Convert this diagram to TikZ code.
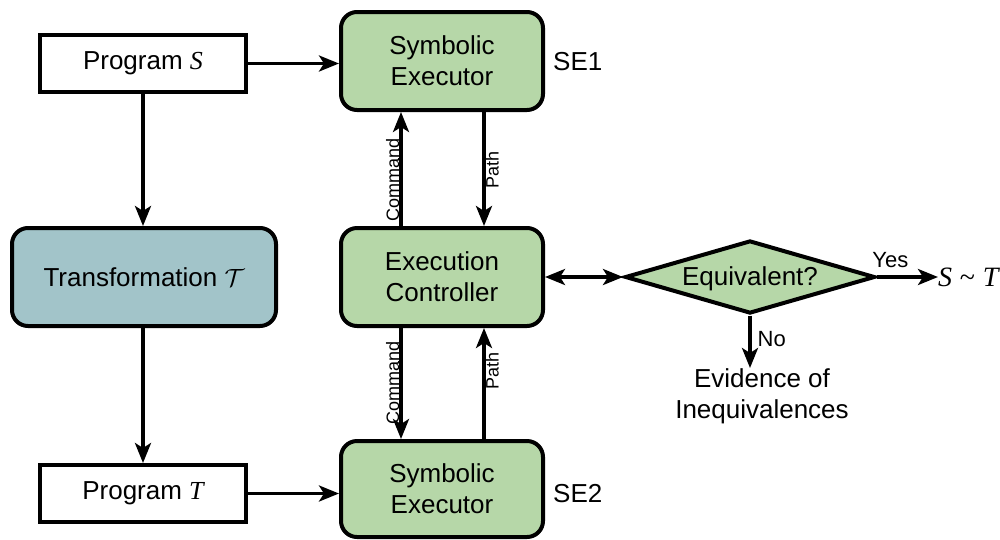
\documentclass[tikz,border=0pt]{standalone}
\usepackage{fontspec}
\setmainfont{Liberation Sans}
\newfontfamily\tms{Liberation Serif}
\usetikzlibrary{arrows.meta,shapes.geometric}
\definecolor{gfill}{HTML}{B6D7A8}
\definecolor{tfill}{HTML}{A2C4C9}
\begin{document}
\begin{tikzpicture}[x=1pt,y=-1pt,
 mainfont/.style={font=\fontsize{26}{31}\selectfont},
 prog/.style={draw, line width=4pt, minimum width=206pt, minimum height=57pt, inner sep=0pt, mainfont},
 gbox/.style={draw, line width=4pt, rounded corners=16pt, fill=gfill, minimum width=202pt, minimum height=98pt, inner sep=0pt, align=center, mainfont},
 tip/.tip={Stealth[length=20pt,width=16pt,inset=5pt]},
 arr/.style={line width=3.3pt, -tip},
 darr/.style={line width=3.3pt, tip-tip},
 vlab/.style={font=\fontsize{18}{20}\selectfont, rotate=90, inner sep=0pt},
 tlab/.style={font=\fontsize{22}{24}\selectfont, inner sep=0pt},
 plain/.style={inner sep=0pt, align=center, mainfont}]
\useasboundingbox (0,0) rectangle (1000,539);

\node[prog] (ps) at (143,63.5) {Program {\tms\itshape S}};
\node[gbox] (se1) at (442,61) {Symbolic\\Executor};
\node[plain, anchor=west] (l1) at (553,62) {SE1};

\node[gbox, fill=tfill, minimum width=264pt] (tr) at (144,277) {Transformation $\mathcal{T}$};
\node[gbox] (ec) at (442,277) {Execution\\Controller};

\node[prog] (pt) at (143,493.5) {Program {\tms\itshape T}};
\node[gbox, minimum height=96pt] (se2) at (442,489) {Symbolic\\Executor};
\node[plain, anchor=west] (l2) at (553,494) {SE2};

\node[diamond, draw, line width=4pt, fill=gfill, minimum width=250pt, minimum height=73pt, inner sep=0pt] (eq) at (750,277) {};
\node[plain] (eqt) at (750,279) {Equivalent?};
\node[inner sep=0pt, anchor=west, font=\fontsize{28}{30}\selectfont] (st) at (938,277) {{\tms\itshape S} {\tms \char`~} {\tms\itshape T}};
\node[plain, anchor=north] (ev) at (762,368) {Evidence of\\Inequivalences};

% connectors
\draw[arr] (ps.east) -- (ps.east -| se1.west);
\draw[arr] (ps.south) -- (ps.south |- tr.north);
\draw[arr] (tr.south -| pt.north) -- (pt.north);
\draw[arr] (pt.east) -- (pt.east -| se2.west);

\draw[arr] ([xshift=-41pt]ec.north) -- ([xshift=-41pt]se1.south) node[vlab, pos=0.44, anchor=south, xshift=-4pt] {Command};
\draw[arr] ([xshift=42pt]se1.south) -- ([xshift=42pt]ec.north) node[vlab, pos=0.57, anchor=north, xshift=7pt] {Path};
\draw[arr] ([xshift=-41pt]ec.south) -- ([xshift=-41pt]se2.north) node[vlab, pos=0.46, anchor=south, xshift=-4pt] {Command};
\draw[arr] ([xshift=42pt]se2.north) -- ([xshift=42pt]ec.south) node[vlab, pos=0.55, anchor=north, xshift=7pt] {Path};

\draw[darr] (ec.east) -- (eq.west);
\draw[arr] (eq.east) -- (st.west) node[tlab, pos=0.22, above=8pt] {Yes};
\draw[arr] (eq.south) -- (eq.south |- ev.north) node[tlab, pos=0.45, anchor=west, xshift=6pt] {No};
\end{tikzpicture}
\end{document}
